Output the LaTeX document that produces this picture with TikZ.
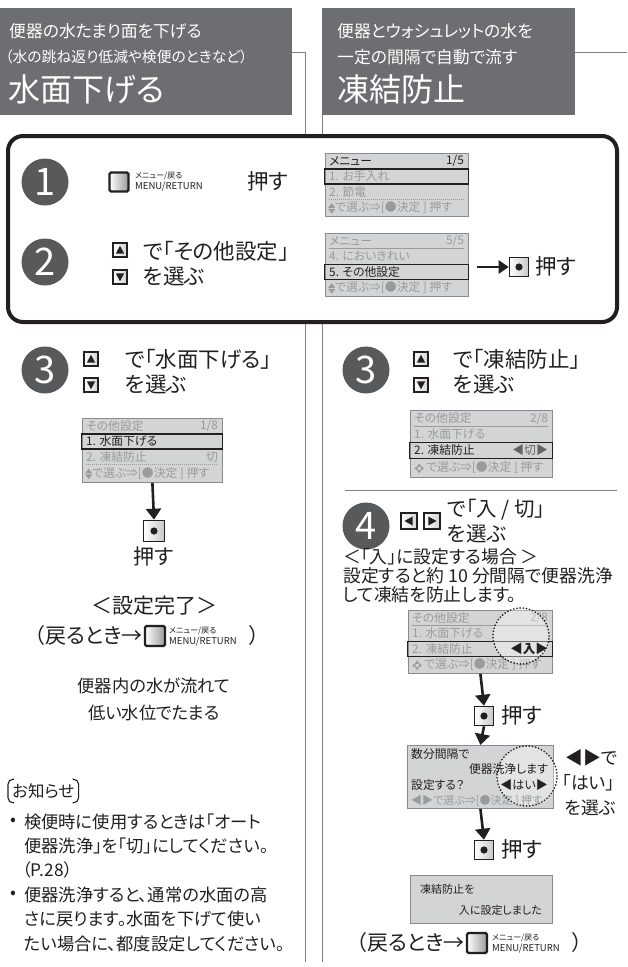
\documentclass[tikz,border=0pt]{standalone}
\usepackage{fontspec}
\setmainfont{Noto Sans CJK JP}[RawFeature=+palt]
\usetikzlibrary{arrows.meta,calc}
\definecolor{hdr}{HTML}{6D6E71}
\definecolor{circ}{HTML}{58595B}
\definecolor{scrbg}{HTML}{D3D4D6}
\definecolor{scrtxt}{HTML}{9A9B9D}
\definecolor{scrline}{HTML}{8A8A8C}
\definecolor{rulec}{HTML}{808080}
\definecolor{ink}{HTML}{231F20}
\newcommand\fs[1]{\fontsize{#1}{#1}\selectfont}
\newcommand\updn{\tikz[baseline=-3.6pt,x=1pt,y=1pt]{\fill[scrtxt] (0,0.6)--(7,0.6)--(3.5,5.2)--cycle;\fill[scrtxt] (0,-0.6)--(7,-0.6)--(3.5,-5.2)--cycle;}}
\newcommand\fourway{\tikz[baseline=-3.6pt,x=1pt,y=1pt]{\fill[scrtxt] (-2.2,1.6)--(2.2,1.6)--(0,5)--cycle;\fill[scrtxt] (-2.2,-1.6)--(2.2,-1.6)--(0,-5)--cycle;\fill[scrtxt] (1.6,-2.2)--(1.6,2.2)--(5,0)--cycle;\fill[scrtxt] (-1.6,-2.2)--(-1.6,2.2)--(-5,0)--cycle;}}
\tikzset{
  rulel/.style={draw=rulec,line width=1pt},
  stepnum/.style={circle,fill=circ,minimum size=47pt,inner sep=0pt,text=white,font=\fs{38}},
  screen/.style={draw=scrline,fill=scrbg,line width=0.8pt,anchor=north west,inner sep=0pt},
  stxt/.style={anchor=west,inner sep=0pt,text=scrtxt,font=\fs{11.8}},
  btxt/.style={anchor=west,inner sep=0pt,text=ink,font=\fs{11.8}},
  hl/.style={draw=ink,line width=1.5pt},
  uline/.style={draw=scrtxt,line width=0.7pt},
  dline/.style={draw=scrtxt,line width=0.8pt,dash pattern=on 0.8pt off 1.2pt},
  menubtn/.style={draw=ink,line width=2.2pt,minimum size=19pt,inner sep=0pt,rounded corners=1.5pt,left color=white,right color=black!40},
  okbtn/.style={draw=ink,line width=1.6pt,minimum size=19pt,inner sep=0pt,left color=white,right color=black!22},
  arrbtn/.style={draw=ink,line width=1.1pt,minimum size=14pt,inner sep=0pt,left color=white,right color=black!18},
  steptxt/.style={anchor=west,inner sep=0pt,text=ink,font=\fs{21.5}},
  midtxt/.style={inner sep=0pt,text=ink,font=\fs{17.8}},
  smtxt/.style={inner sep=0pt,text=ink,font=\fs{17.3}},
  flow/.style={draw=ink,line width=2.6pt,-{Triangle[width=15pt,length=11pt]}},
  dotc/.style={draw=ink,line width=1.9pt,dash pattern=on 0pt off 3.2pt,line cap=round,fill=white,fill opacity=0.35},
  menulbl/.style={anchor=west,inner sep=0pt,align=left,text=ink}
}
\newcommand\upbtn[2]{\node[arrbtn] (#1) at (#2) {};\fill[ink] ($(#1)+(-4.2,3.6)$)--($(#1)+(4.2,3.6)$)--($(#1)+(0,-4.2)$)--cycle;}
\newcommand\dnbtn[2]{\node[arrbtn] (#1) at (#2) {};\fill[ink] ($(#1)+(-4.2,-3.6)$)--($(#1)+(4.2,-3.6)$)--($(#1)+(0,4.2)$)--cycle;}
\newcommand\lfbtn[2]{\node[arrbtn,minimum size=16pt] (#1) at (#2) {};\fill[ink] ($(#1)+(3.6,-4.5)$)--($(#1)+(3.6,4.5)$)--($(#1)+(-4.5,0)$)--cycle;}
\newcommand\rtbtn[2]{\node[arrbtn,minimum size=16pt] (#1) at (#2) {};\fill[ink] ($(#1)+(-3.6,-4.5)$)--($(#1)+(-3.6,4.5)$)--($(#1)+(4.5,0)$)--cycle;}
\newcommand\okdot[1]{\fill[ink] (#1) circle[radius=3.6pt];}
\newcommand\menulabel{{\fs{8}メニュー/戻る}\\[-1pt]{\fs{9.5}MENU/RETURN}}
\begin{document}
\begin{tikzpicture}[x=1pt,y=-1pt]
\useasboundingbox[fill=white] (0,0) rectangle (627,967);
% ---------- column lines
\coordinate (lt) at (292,52); \coordinate (lc) at (305,52); \coordinate (lb) at (305,962);
\draw[rulel] (lt) -- (lc) -- (lb);
\coordinate (rt) at (575,52); \coordinate (re) at (627,52);
\draw[rulel] (rt) -- (re);
\coordinate (rc) at (322,115); \coordinate (rb) at (322,962);
\draw[rulel] (rc) -- (rb);
% ---------- headers
\fill[hdr] (0,8) rectangle (292,115);
\fill[hdr] (322,8) rectangle (575,115);
\node[anchor=west,inner sep=0pt,text=white,font=\fs{16.8}] (h1a) at (9,31) {便器の水たまり面を下げる};
\node[anchor=west,inner sep=0pt,text=white,font=\fs{14.8}] (h1b) at (5,57) {（水の跳ね返り低減や検便のときなど）};
\node[anchor=west,inner sep=0pt,text=white,font=\fs{32}] (h1c) at (8,89) {水面下げる};
\node[anchor=west,inner sep=0pt,text=white,font=\fs{16.8}] (h2a) at (337,31) {便器とウォシュレットの水を};
\node[anchor=west,inner sep=0pt,text=white,font=\fs{16.8}] (h2b) at (337,57) {一定の間隔で自動で流す};
\node[anchor=west,inner sep=0pt,text=white,font=\fs{32}] (h2c) at (337,89) {凍結防止};
% ---------- big box
\draw[draw=ink,line width=4pt,fill=white,rounded corners=15pt] (8,136) rectangle (617,322);
% step 1
\node[stepnum] (n1) at (45,182) {1};
\node[menubtn] (m1) at (119,182) {};
\node[menulbl] (m1l) at (135,182) {\menulabel};
\node[steptxt] (p1) at (247,181) {押す};
\begin{scope}[shift={(325,153)}]
\node[screen,minimum width=143pt,minimum height=63pt] (s1) at (0,0) {};
\node[btxt] at (4,8) {メニュー};
\node[btxt,anchor=east] at (139,8) {1/5};
\draw[draw=ink,line width=0.7pt] (4,15.5) -- (139,15.5);
\node[stxt] at (4,23.5) {1. お手入れ};
\draw[hl] (-0.5,16.2) rectangle (143.5,31);
\node[stxt] at (4,39) {2. 節電};
\draw[dline] (4,46.5) -- (139,46.5);
\node[stxt] at (3,55) {\updn で選ぶ⇒[●決定 ] 押す};
\end{scope}
% step 2
\node[stepnum] (n2) at (45,262) {2};
\upbtn{u2}{120,250}
\dnbtn{d2}{120,277}
\node[steptxt] (t2a) at (143,251) {で「その他設定」};
\node[steptxt] (t2b) at (143,276) {を選ぶ};
\begin{scope}[shift={(325,233)}]
\node[screen,minimum width=143pt,minimum height=63pt] (s2) at (0,0) {};
\node[stxt] at (4,8) {メニュー};
\node[stxt,anchor=east] at (139,8) {5/5};
\draw[uline] (4,15.5) -- (139,15.5);
\node[stxt] at (4,23.5) {4. においきれい};
\node[btxt] at (4,39) {5. その他設定};
\draw[hl] (-0.5,31.5) rectangle (143.5,46.5);
\node[stxt] at (3,55) {\updn で選ぶ⇒[●決定 ] 押す};
\end{scope}
\coordinate (a2) at (477,267);
\node[okbtn] (ok2) at (519,267) {};
\okdot{ok2}
\draw[flow,line width=2.4pt,-{Triangle[width=13pt,length=10pt]}] (a2) -- (ok2.west);
\node[steptxt] (p2) at (535,266) {押す};
% ---------- left step 3
\node[stepnum] (n3l) at (45,370) {3};
\upbtn{u3l}{91,359}
\dnbtn{d3l}{91,385}
\node[steptxt] (t3la) at (125,359) {で「水面下げる」};
\node[steptxt] (t3lb) at (125,384) {を選ぶ};
\begin{scope}[shift={(82,418)}]
\node[screen,minimum width=140pt,minimum height=64pt] (s3l) at (0,0) {};
\node[stxt] at (4,8) {その他設定};
\node[stxt,anchor=east] at (136,8) {1/8};
\node[btxt] at (4,23.5) {1. 水面下げる};
\draw[hl] (-0.5,16) rectangle (140.5,31);
\node[stxt] at (4,39) {2. 凍結防止};
\node[stxt,anchor=east] at (136,39) {切};
\draw[dline] (4,46.5) -- (136,46.5);
\node[stxt] at (3,55.5) {\updn で選ぶ⇒[●決定 ] 押す};
\end{scope}
\node[okbtn,minimum size=21pt] (ok3l) at (154,531) {};
\okdot{ok3l}
\draw[flow] (s3l.south) -- (ok3l.north);
\node[midtxt,font=\fs{21}] (p3l) at (154,557) {押す};
\node[midtxt,font=\fs{21}] (done) at (154,606) {＜設定完了＞};
\node[menubtn,minimum size=20pt] (mb3l) at (155,636) {};
\node[midtxt,font=\fs{21},anchor=east] (back3l) at (143,636) {（戻るとき→};
\node[menulbl] (mb3ll) at (169,637) {\menulabel};
\node[midtxt,font=\fs{21},anchor=west] (cl3l) at (249,636) {）};
\node[smtxt] (w1) at (154,686) {便器内の水が流れて};
\node[smtxt] (w2) at (154,713) {低い水位でたまる};
% oshirase
\node[smtxt,anchor=west,font=\fs{16.5}] (osh) at (12,791) {お知らせ};
\draw[draw=ink,line width=1.1pt,rounded corners=5pt] ($(osh.north west)+(2,-4)$) -- ($(osh.north west)+(-4,-4)$) -- ($(osh.south west)+(-4,4)$) -- ($(osh.south west)+(2,4)$);
\draw[draw=ink,line width=1.1pt,rounded corners=5pt] ($(osh.north east)+(-2,-4)$) -- ($(osh.north east)+(4,-4)$) -- ($(osh.south east)+(4,4)$) -- ($(osh.south east)+(-2,4)$);
\node[smtxt,anchor=west] (b1) at (10,822) {•};
\node[smtxt,anchor=west] (l1) at (24,822) {検便時に使用するときは「オート};
\node[smtxt,anchor=west] (l2) at (24,846) {便器洗浄」を「切」にしてください。};
\node[smtxt,anchor=west] (l3) at (22,870) {（P.28）};
\node[smtxt,anchor=west] (b2) at (10,895) {•};
\node[smtxt,anchor=west] (l4) at (24,895) {便器洗浄すると、通常の水面の高};
\node[smtxt,anchor=west] (l5) at (24,919) {さに戻ります。水面を下げて使い};
\node[smtxt,anchor=west] (l6) at (24,944) {たい場合に、都度設定してください。};
% ---------- right step 3
\node[stepnum] (n3r) at (366,370) {3};
\upbtn{u3r}{421,359}
\dnbtn{d3r}{421,385}
\node[steptxt] (t3ra) at (453,359) {で「凍結防止」};
\node[steptxt] (t3rb) at (453,384) {を選ぶ};
\begin{scope}[shift={(410,410)}]
\node[screen,minimum width=142pt,minimum height=67pt] (s3r) at (0,0) {};
\node[stxt] at (4,8.5) {その他設定};
\node[stxt,anchor=east] at (138,8.5) {2/8};
\draw[uline] (4,16) -- (138,16);
\node[stxt] at (4,24.5) {1. 水面下げる};
\node[btxt] at (4,40.5) {2. 凍結防止};
\node[btxt,anchor=east,text=ink!70] at (138,40.5) {◀切▶};
\draw[hl] (-0.5,32.5) rectangle (142.5,48.5);
\node[stxt] at (4,58) {\fourway\,で選ぶ⇒[●決定 ] 押す};
\end{scope}
\coordinate (sep1) at (345,490); \coordinate (sep2) at (617,490);
\draw[rulel,line width=0.8pt] (sep1) -- (sep2);
% step 4
\node[stepnum] (n4) at (366,526) {4};
\lfbtn{l4b}{409,521}
\rtbtn{r4b}{432,521}
\node[steptxt,font=\fs{20.5}] (t4a) at (447,510) {で「入 / 切」};
\node[steptxt,font=\fs{20.5}] (t4b) at (447,534) {を選ぶ};
\node[midtxt,anchor=west] (t4c) at (343,557) {＜「入」に設定する場合 ＞};
\node[midtxt,anchor=west] (t4d) at (343,576) {設定すると約 10 分間隔で便器洗浄};
\node[midtxt,anchor=west] (t4e) at (343,595) {して凍結を防止します。};
\begin{scope}[shift={(408,610)}]
\node[screen,minimum width=144pt,minimum height=63pt] (s4) at (0,0) {};
\node[stxt] at (4,8) {その他設定};
\node[stxt,anchor=east] at (140,8) {2/8};
\draw[uline] (4,15.5) -- (140,15.5);
\node[stxt] at (4,23.5) {1. 水面下げる};
\node[stxt] at (4,39) {2. 凍結防止};
\draw[hl] (-0.5,31.5) rectangle (144.5,46.5);
\node[stxt] at (4,55) {\fourway\,で選ぶ⇒[●決定 ] 押す};
\draw[dotc] (113,26) circle[radius=28pt];
\node[btxt,anchor=east,font=\fs{12.5}\bfseries] at (140,39) {◀入▶};
\end{scope}
\node[okbtn] (ok4) at (484,716) {};
\okdot{ok4}
\draw[flow] (s4.south) -- (ok4.north);
\node[steptxt] (p4) at (501,715) {押す};
\begin{scope}[shift={(407,745)}]
\node[screen,minimum width=146pt,minimum height=63pt] (s5) at (0,0) {};
\draw[dotc] (120,31) circle[radius=30pt];
\node[btxt] at (4,9) {数分間隔で};
\node[btxt,anchor=east] at (141,24.5) {便器洗浄します};
\node[btxt] at (4,40) {設定する？};
\node[btxt,anchor=east,font=\fs{12}] at (141,40) {◀はい▶};
\node[stxt,font=\fs{11}] at (4,55.5) {◀▶で選ぶ⇒[●決定 ] 押す};
\end{scope}
\draw[flow] (ok4.south) -- (s5.north);
\node[midtxt,anchor=west] (q1) at (565,758) {◀▶で};
\node[midtxt,anchor=west] (q2) at (562,783) {「はい」};
\node[midtxt,anchor=west] (q3) at (565,808) {を選ぶ};
\node[okbtn] (ok5) at (484,850) {};
\okdot{ok5}
\draw[flow] (s5.south) -- (ok5.north);
\node[steptxt] (p5) at (501,849) {押す};
\begin{scope}[shift={(410,875)}]
\node[screen,minimum width=142pt,minimum height=48pt] (s6) at (0,0) {};
\node[btxt,font=\fs{11}] at (10,14) {凍結防止を};
\node[btxt,font=\fs{11},anchor=east] at (132,35) {入に設定しました};
\end{scope}
\node[menubtn,minimum size=20pt] (mb5) at (477,943) {};
\node[midtxt,font=\fs{21},anchor=east] (back5) at (465,943) {（戻るとき→};
\node[menulbl] (mb5l) at (492,944) {\menulabel};
\node[midtxt,font=\fs{21},anchor=west] (cl5) at (572,943) {）};
\end{tikzpicture}
\end{document}
